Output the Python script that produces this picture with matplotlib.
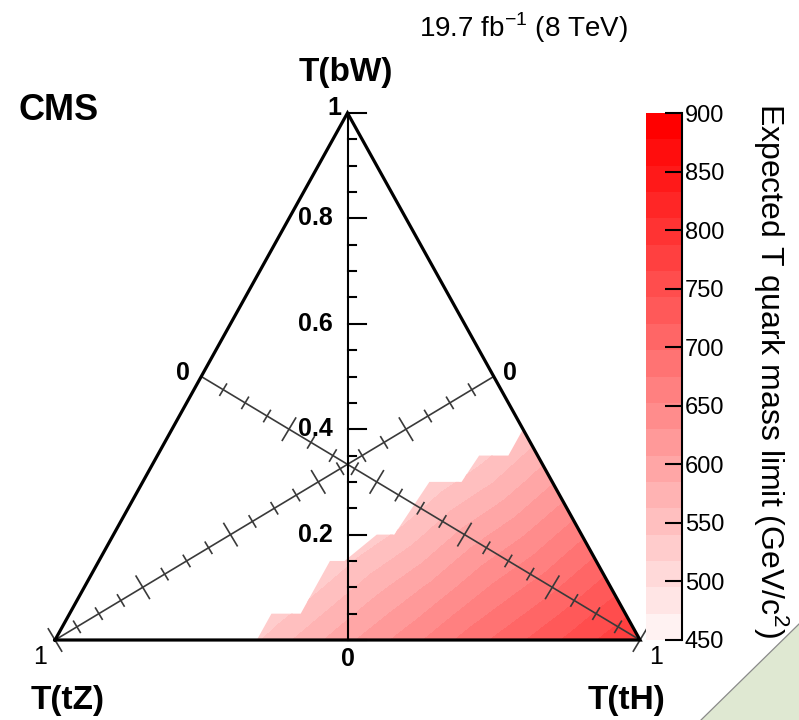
import numpy as np
import matplotlib
matplotlib.use("Agg")
import matplotlib.pyplot as plt
import matplotlib.tri as mtri
from matplotlib.colors import ListedColormap
from matplotlib.patches import Polygon
from matplotlib.lines import Line2D

plt.rcParams['font.family'] = ['Liberation Sans', 'DejaVu Sans']
plt.rcParams['mathtext.fontset'] = 'custom'
plt.rcParams['mathtext.rm'] = 'Liberation Sans'

# Expected T quark mass limits (GeV) on a grid of branching fractions.
# Each row is one value of B(T->bW); entries run in steps of 0.1 in B(T->tH)
# starting at th_start.
bw_rows = [0.0, 0.1, 0.2, 0.3, 0.4]
th_start = [0.3, 0.3, 0.3, 0.4, 0.5]
limit_rows = [
    [518, 560, 602, 640, 682, 718, 756, 790],
    [497, 536, 578, 615, 656, 692, 733],
    [472, 513, 549, 592, 628, 670],
    [486, 527, 562, 605],
    [500, 541],
]

# Edge of the region in which a limit was obtained (B(T->bW), B(T->tH))
edge_bw = [0.00, 0.05, 0.05, 0.15, 0.15, 0.20, 0.20, 0.30, 0.30, 0.35, 0.35, 0.40]
edge_th = [0.345, 0.345, 0.395, 0.395, 0.42, 0.45, 0.48, 0.49, 0.545, 0.55, 0.60, 0.60]

levels = np.linspace(450, 900, 21)
cbar_ticks = [450, 500, 550, 600, 650, 700, 750, 800, 850, 900]
axis_ticks = np.round(np.arange(0.05, 1.0001, 0.05), 2)
vert_labels = [0.2, 0.4, 0.6, 0.8]

W, H = 799, 720
fig = plt.figure(figsize=(W / 100, H / 100), dpi=100)


def fx(px):
    return px / W


def fy(py):
    return 1 - py / H


def to_xy(bw, th):
    bw = np.asarray(bw, float)
    th = np.asarray(th, float)
    return th + bw / 2, bw


ax = fig.add_axes([fx(55), fy(640), (640 - 55) / W, (640 - 113) / H])
ax.set_xlim(0, 1)
ax.set_ylim(0, 1)
ax.axis('off')

# --- limit map ---
pts_bw, pts_th, pts_val = [], [], []
for bw, t0, row in zip(bw_rows, th_start, limit_rows):
    for k, v in enumerate(row):
        pts_bw.append(bw)
        pts_th.append(t0 + 0.1 * k)
        pts_val.append(v)
X, Y = to_xy(pts_bw, pts_th)
tri = mtri.Triangulation(X, Y)
cmap = ListedColormap([(1.0, g, g) for g in np.linspace(0.95, 0.0, 20)])
cs = ax.tricontourf(tri, pts_val, levels=levels, cmap=cmap, zorder=1)
ex, ey = to_xy(edge_bw + [0.0], edge_th + [1.0])
clip = Polygon(np.column_stack([ex, ey]), closed=True, transform=ax.transData,
               fc='none', ec='none')
ax.add_patch(clip)
cs.set_clip_path(clip)

# --- triangle frame ---
tx, ty = to_xy([0, 1, 0, 0], [0, 0, 1, 0])
ax.plot(tx, ty, color='black', lw=2.3, solid_joinstyle='miter', clip_on=False, zorder=5)


def pix(pt):
    return ax.transData.transform(pt)


def data(p):
    return ax.transData.inverted().transform(p)


# --- vertical B(T->bW) axis ---
vx0, vy0 = to_xy(0, 0.5)
vx1, vy1 = to_xy(1, 0)
ax.plot([vx0, vx1], [vy0, vy1], color='black', lw=1.5, clip_on=False, zorder=6)
for v in np.concatenate([[0.0], axis_ticks]):
    p = pix((vx0, v))
    major = abs(v / 0.2 - round(v / 0.2)) < 1e-6
    ln = 18 if major else 9
    q = data(p + np.array([ln, 0]))
    ax.plot([vx0, q[0]], [v, v], color='black', lw=1.5, clip_on=False, zorder=6)
for v in vert_labels:
    ax.annotate(f"{v:.1f}", xy=(vx0, v), xytext=(-15, 0), textcoords='offset pixels',
                ha='right', va='center', fontsize=18, fontweight='bold')
ax.annotate("1", xy=(vx1, vy1), xytext=(-6, 5), textcoords='offset pixels',
            ha='right', va='center', fontsize=18, fontweight='bold')
ax.annotate("0", xy=(vx0, vy0), xytext=(0, -19), textcoords='offset pixels',
            ha='center', va='center', fontsize=18, fontweight='bold')


# --- diagonal B(T->tH) and B(T->tZ) axes ---
def diag_axis(start, end, lab0_off, lab1_off):
    s = np.array(start)
    e = np.array(end)
    p0, p1 = pix(s), pix(e)
    d = (p1 - p0) / np.hypot(*(p1 - p0))
    n = np.array([-d[1], d[0]])
    ax.plot([s[0], e[0]], [s[1], e[1]], color='#3a3a3a', lw=1.2, clip_on=False, zorder=4)
    for t in axis_ticks:
        p = p0 + (p1 - p0) * t
        major = abs(t / 0.2 - round(t / 0.2)) < 1e-6
        half = 13 if major else 6.5
        seg = data(np.array([p + n * half, p - n * half]))
        ax.plot(seg[:, 0], seg[:, 1], color='#3a3a3a', lw=1.2, clip_on=False, zorder=4)
    ax.annotate("0", xy=s, xytext=lab0_off, textcoords='offset pixels',
                ha='center', va='center', fontsize=18, fontweight='bold')
    ax.annotate("1", xy=e, xytext=lab1_off, textcoords='offset pixels',
                ha='center', va='center', fontsize=18)


diag_axis(to_xy(0.5, 0.0), to_xy(0.0, 1.0), (-18, 4), (16, -17))
diag_axis(to_xy(0.5, 0.5), to_xy(0.0, 0.0), (16, 4), (-15, -17))

# --- colour scale ---
cax = fig.add_axes([fx(646), fy(640), 36 / W, (640 - 113) / H])
cb = fig.colorbar(cs, cax=cax, ticks=cbar_ticks)
cb.outline.set_visible(False)
cax.yaxis.set_ticks_position('right')
cax.tick_params(axis='y', direction='in', length=12, width=1.5, pad=2, labelsize=17)
cax.add_line(Line2D([1, 1], [0, 1], transform=cax.transAxes, color='black', lw=1.5,
                    clip_on=False))
fig.text(fx(771), fy(370), "Expected T quark mass limit (GeV/c$^{2}$)", rotation=270,
         ha='center', va='center', fontsize=23)

# --- titles ---
fig.text(fx(18), fy(110), "CMS", ha='left', va='center', fontsize=26, fontweight='bold')
fig.text(fx(628), fy(28), "19.7 fb$^{-1}$ (8 TeV)", ha='right', va='center', fontsize=20)
fig.text(fx(346), fy(72), "T(bW)", ha='center', va='center', fontsize=24, fontweight='bold')
fig.text(fx(68), fy(700), "T(tZ)", ha='center', va='center', fontsize=24, fontweight='bold')
fig.text(fx(626), fy(700), "T(tH)", ha='center', va='center', fontsize=24, fontweight='bold')

# --- page corner ---
corner = Polygon([[fx(701), fy(720)], [fx(799), fy(624)], [fx(799), fy(720)]],
                 closed=True, transform=fig.transFigure, fc='#dfe8d2', ec='none', zorder=0)
fig.patches.append(corner)
fig.add_artist(Line2D([fx(701), fx(799)], [fy(720), fy(624)], transform=fig.transFigure,
                      color='#8a8a8a', lw=0.9))

fig.savefig("out.png", dpi=100)
